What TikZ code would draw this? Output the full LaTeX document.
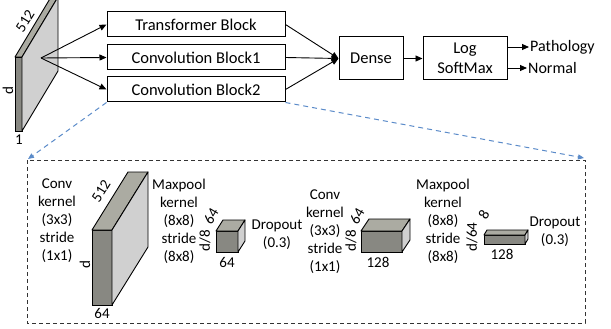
\documentclass[tikz,border=0pt]{standalone}
\usepackage{fontspec}
\setmainfont{Carlito}
\usetikzlibrary{arrows.meta}

\begin{document}
\begin{tikzpicture}[x=1pt, y=-1pt,
    block/.style={draw, line width=1pt, minimum width=178pt, minimum height=25pt, inner sep=0pt, font=\fontsize{16.5}{20}\selectfont},
    smallblock/.style={draw, line width=1pt, minimum height=43pt, inner sep=0pt, align=center, font=\fontsize{16.5}{20}\selectfont},
    arr/.style={-{Triangle[length=7pt,width=6pt]}, line width=0.9pt},
    blue arr/.style={-{Triangle[length=6pt,width=5pt]}, draw=blueLine, line width=1pt, dash pattern=on 5pt off 4pt},
    lbl/.style={inner sep=0pt, align=center, font=\fontsize{15}{18}\selectfont},
    dimlbl/.style={inner sep=0pt, font=\fontsize{15}{18}\selectfont}]

    \definecolor{frontGrey}{HTML}{888882}
    \definecolor{topGrey}{HTML}{ABABA2}
    \definecolor{sideGrey}{HTML}{D0D0D0}
    \definecolor{blueLine}{HTML}{5B8BC9}

    % cuboid: x, y (front top-left), width, height, depth dx, depth dy
    \def\cuboid#1#2#3#4#5#6{%
        \filldraw[fill=frontGrey, line width=0.9pt] (#1,#2) rectangle ++(#3,#4);
        \filldraw[fill=topGrey, line width=0.9pt, line join=round] (#1,#2) -- ++(#5,#6) -- ++(#3,0) -- ++(-#5,-#6) -- cycle;
        \filldraw[fill=sideGrey, line width=0.9pt, line join=round] (#1+#3,#2) -- ++(#5,#6) -- ++(0,#4) -- ++(-#5,-#6) -- cycle;
    }

    \useasboundingbox (0,0) rectangle (611,329);

    % Input slab
    \cuboid{15}{57}{7}{74}{36}{-60}
    \node[dimlbl, rotate=58] (inW) at (25,21) {512};
    \node[dimlbl, rotate=90] (inD) at (8,91) {d};
    \node[dimlbl] (inOne) at (19,140) {1};
    \coordinate (split) at (41,58);

    % Branches
    \node[block] (trans) at (196,24.5) {Transformer Block};
    \node[block] (conv1) at (196,57.5) {Convolution Block1};
    \node[block] (conv2) at (196,89.5) {Convolution Block2};

    \draw[arr] (split) -- (trans.west);
    \draw[arr] (split) -- (conv1.west);
    \draw[arr] (split) -- (conv2.west);

    % Head
    \node[smallblock, minimum width=64pt] (dense) at (371,58.5) {Dense};
    \node[smallblock, minimum width=84pt] (logsm) at (465,58.5) {Log\\SoftMax};

    \draw[arr] (trans.east) -- (dense.west);
    \draw[arr] (conv1.east) -- (dense.west);
    \draw[arr] (conv2.east) -- (dense.west);
    \draw[arr] (dense.east) -- (logsm.west);

    \node[anchor=west, inner sep=1pt, font=\fontsize{16}{20}\selectfont] (patho) at (529,47) {Pathology};
    \node[anchor=west, inner sep=1pt, font=\fontsize{16}{20}\selectfont] (normal) at (527,68) {Normal};
    \draw[arr] (logsm.east |- patho.west) -- (patho.west);
    \draw[arr] (logsm.east |- normal.west) -- (normal.west);

    % Zoom into Convolution Block2
    \coordinate (zoomL) at (28,159);
    \coordinate (zoomR) at (584,158);
    \draw[blue arr] (conv2.south west) -- (zoomL);
    \draw[blue arr] (conv2.south east) -- (zoomR);
    \draw[line width=0.9pt, draw=black!80, dash pattern=on 4pt off 3pt] (27,160) rectangle (585,323);

    % Layers inside the block
    \node[lbl] (convA) at (57,221) {Conv\\kernel\\(3x3)\\stride\\(1x1)};
    \cuboid{92}{230}{20}{75}{36}{-58}
    \node[dimlbl, rotate=58] (bigW) at (101,191) {512};
    \node[dimlbl, rotate=90] (bigD) at (85,265) {d};
    \node[dimlbl] (bigC) at (102,313) {64};

    \node[lbl] (poolA) at (179,221) {Maxpool\\kernel\\(8x8)\\stride\\(8x8)};
    \cuboid{216}{231}{22}{21}{7}{-11}
    \node[dimlbl, rotate=60] (smW) at (211,216) {64};
    \node[dimlbl, rotate=90] (smD) at (205,241) {d/8};
    \node[dimlbl] (smC) at (227,262) {64};

    \node[lbl] (dropA) at (277,235) {Dropout\\(0.3)};

    \node[lbl] (convB) at (325,232) {Conv\\kernel\\(3x3)\\stride\\(1x1)};
    \cuboid{361}{231}{41}{21}{8}{-12}
    \node[dimlbl, rotate=60] (mdW) at (357,216) {64};
    \node[dimlbl, rotate=90] (mdD) at (351,241) {d/8};
    \node[dimlbl] (mdC) at (378,262) {128};

    \node[lbl] (poolB) at (443,221) {Maxpool\\kernel\\(8x8)\\stride\\(8x8)};
    \cuboid{484}{235}{41}{9}{3}{-5}
    \node[dimlbl, rotate=60] (flW) at (484,215) {8};
    \node[dimlbl, rotate=90] (flD) at (472,237) {d/64};
    \node[dimlbl] (flC) at (502,254) {128};

    \node[lbl] (dropB) at (555,232) {Dropout\\(0.3)};

\end{tikzpicture}
\end{document}
